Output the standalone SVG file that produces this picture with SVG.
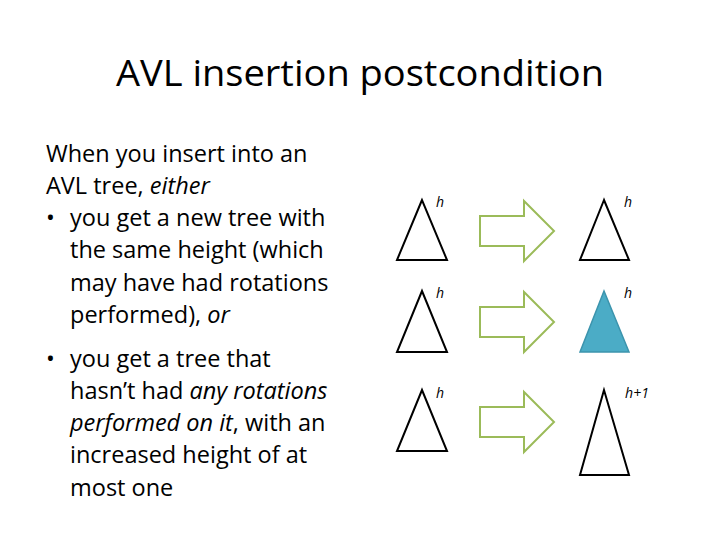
<svg xmlns="http://www.w3.org/2000/svg" width="720" height="540" viewBox="0 0 720 540">
<style>
.t{font-family:"Open Sans","Liberation Sans",sans-serif;font-size:23.5px;fill:#000}
.l{font-family:"Open Sans","Liberation Sans",sans-serif;font-size:14px;font-style:italic;fill:#000}
.tri{fill:#fff;stroke:#000;stroke-width:2}
.arr{fill:#fff;stroke:#9bbb59;stroke-width:2}
</style>
<rect width="720" height="540" fill="#fff"/>
<text x="360" y="86" text-anchor="middle" font-family="Open Sans,Liberation Sans,sans-serif" font-size="36" textLength="488" lengthAdjust="spacingAndGlyphs">AVL insertion postcondition</text>
<g class="t">
<text x="46" y="162">When you insert into an</text>
<text x="46" y="194">AVL tree, <tspan font-style="italic">either</tspan></text>
<text x="46" y="226">•</text>
<text x="70" y="226">you get a new tree with</text>
<text x="70" y="258">the same height (which</text>
<text x="70" y="291">may have had rotations</text>
<text x="70" y="323">performed), <tspan font-style="italic">or</tspan></text>
<text x="46" y="367">•</text>
<text x="70" y="367">you get a tree that</text>
<text x="70" y="399">hasn’t had <tspan font-style="italic">any rotations</tspan></text>
<text x="70" y="431"><tspan font-style="italic">performed on it</tspan>, with an</text>
<text x="70" y="463">increased height of at</text>
<text x="70" y="496">most one</text>
</g>
<g id="row1">
<polygon class="tri" points="422,200 397,260 447,260"/>
<polygon class="tri" points="604,200 580,260 629,260"/>
<text class="l" x="440" y="207" text-anchor="middle">h</text>
<text class="l" x="628" y="207" text-anchor="middle">h</text>
</g>
<g id="row2">
<polygon class="tri" points="422,291 397,352 447,352"/>
<polygon points="604,291 580,352 629,352" fill="#4bacc6" stroke="#3c94ad" stroke-width="1.5"/>
<text class="l" x="440" y="298" text-anchor="middle">h</text>
<text class="l" x="628" y="298" text-anchor="middle">h</text>
</g>
<g id="row3">
<polygon class="tri" points="422,390 397,451 447,451"/>
<polygon class="tri" points="604,390 580,475 629,475"/>
<text class="l" x="440" y="398" text-anchor="middle">h</text>
<text class="l" x="637" y="398" text-anchor="middle">h+1</text>
</g>
<g id="connectors">
<polygon class="arr" points="480,216 524,216 524,201 554,231 524,261 524,246 480,246"/>
<polygon class="arr" points="480,307 524,307 524,292 554,322 524,352 524,337 480,337"/>
<polygon class="arr" points="480,407 524,407 524,392 554,422 524,452 524,437 480,437"/>
</g>
</svg>
